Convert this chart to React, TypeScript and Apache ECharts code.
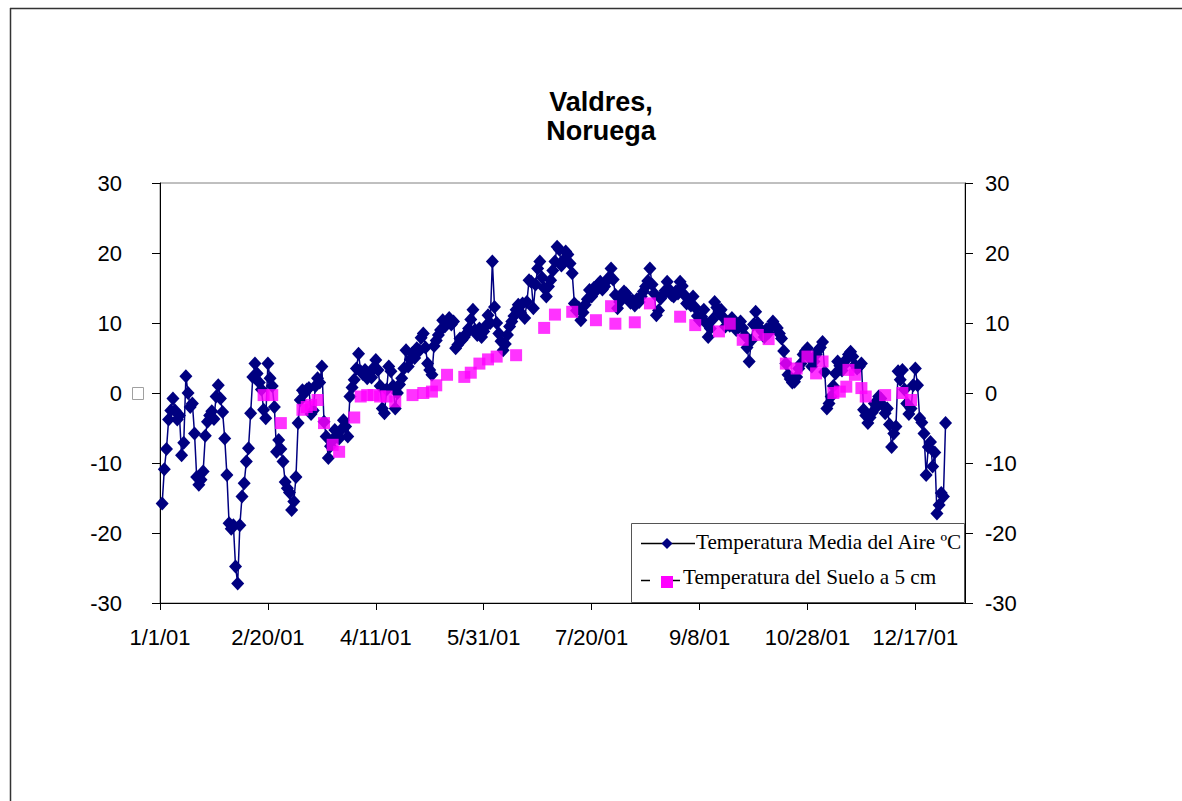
import React, { useEffect, useRef } from "react";
import * as echarts from "echarts";

// Daily mean air temperature (ºC), day 1 .. day 364 of 2001
const airTemp = [
  -15.8, -10.9, -8.0, -3.8, -2.5, -0.8, -2.5, -3.8, -3.2, -8.9,
  -7.1, 2.4, 0.0, -2.0, -1.5, -5.8, -12.0, -13.1, -12.4, -11.2,
  -6.1, -4.1, -3.2, -2.6, -3.7, -0.5, 1.1, -0.8, -2.7, -6.5,
  -11.7, -18.6, -19.4, -18.9, -24.8, -27.2, -18.9, -14.8, -12.9, -9.8,
  -7.9, -2.9, 2.3, 4.2, 2.8, 1.5, 0.5, -2.4, -3.6, 4.2,
  2.1, 1.0, -2.0, -8.4, -6.7, -8.0, -9.8, -12.7, -13.6, -14.2,
  -16.7, -15.5, -12.0, -4.3, -1.0, 0.4, 0.0, 0.5, 0.7, -3.0,
  -2.5, 1.0, 2.1, 1.5, 3.8, -4.1, -6.2, -9.3, -7.6, -6.8,
  -5.3, -6.0, -6.5, -5.2, -3.9, -4.8, -6.2, -0.5, 0.8, 1.9,
  3.5, 5.6, 3.1, 2.7, 3.3, 2.1, 2.8, 2.2, 3.6, 4.7,
  3.3, 1.0, -2.2, -2.9, 0.5, 3.8, 3.1, 1.0, -2.2, 0.0,
  1.2, 2.1, 3.5, 6.1, 3.8, 4.8, 5.7, 5.0, 6.4, 6.0,
  7.9, 8.5, 6.5, 4.2, 3.3, 2.6, 6.7, 7.5, 8.3, 9.0,
  10.4, 9.5, 10.1, 10.7, 9.8, 10.2, 6.4, 6.9, 7.8, 7.6,
  8.0, 8.5, 9.2, 10.5, 11.9, 9.0, 8.3, 9.2, 8.0, 8.8,
  9.6, 11.1, 10.0, 18.8, 12.3, 10.0, 8.5, 7.4, 6.1, 7.0,
  8.3, 9.5, 10.2, 11.0, 11.9, 12.6, 11.5, 12.8, 10.7, 13.0,
  16.1, 15.9, 12.1, 15.5, 17.8, 18.8, 16.5, 15.0, 13.8, 15.2,
  16.1, 17.5, 18.8, 20.9, 20.5, 18.2, 19.0, 20.2, 19.8, 18.5,
  17.1, 12.8, 11.8, 12.2, 10.4, 11.5, 12.6, 13.4, 14.7, 13.8,
  15.0, 14.6, 15.5, 15.9, 14.8, 15.2, 16.0, 16.5, 17.8, 16.2,
  14.0, 12.1, 13.0, 13.8, 14.5, 14.2, 13.5, 12.9, 13.2, 12.5,
  13.4, 13.0, 13.8, 14.5, 15.2, 16.0, 17.8, 15.5, 14.2, 11.1,
  11.8, 13.5, 14.0, 14.6, 15.9, 14.8, 14.0, 13.8, 14.5, 14.2,
  15.9, 15.3, 14.0, 12.8, 13.1, 12.5, 13.8, 12.2, 11.0, 10.4,
  10.9, 11.9, 10.0, 8.0, 9.2, 10.5, 13.0, 12.2, 11.4, 11.9,
  10.8, 9.5, 10.1, 9.6, 10.7, 9.8, 9.0, 9.5, 10.2, 9.3,
  8.2, 6.5, 4.5, 7.5, 9.8, 11.6, 10.0, 9.2, 8.8, 8.0,
  9.1, 8.6, 9.5, 10.2, 9.6, 9.3, 8.5, 7.8, 6.0, 4.2,
  2.6, 2.0, 1.5, 1.6, 2.3, 3.5, 4.2, 5.5, 6.0, 6.4,
  5.0, 3.8, 4.5, 5.5, 6.1, 6.5, 7.3, 3.0, -2.2, -1.5,
  -0.5, 1.0, 2.8, 4.5, 3.9, 3.2, 4.0, 4.8, 5.5, 5.9,
  5.2, 4.0, 3.5, 3.8, 4.2, -2.4, -3.2, -4.3, -3.5, -2.8,
  -1.5, -2.0, -0.5, -0.8, -1.8, -2.9, -2.2, -4.5, -7.7, -5.8,
  -4.8, 3.1, 1.9, 3.3, 0.5, -1.5, -3.0, -2.2, 1.1, 3.5,
  1.1, -3.6, -4.2, -5.8, -11.7, -7.7, -7.0, -10.5, -8.5, -17.2,
  -16.0, -14.3, -14.8, -4.3,
];

// Soil temperature at 5 cm: day of year and value (ºC)
const soilDays = [
  48, 52, 56, 66, 68, 70, 73, 76, 80, 83,
  90, 93, 96, 99, 102, 105, 109, 117, 122, 126,
  128, 133, 141, 144, 148, 152, 156, 165, 178, 183,
  191, 202, 209, 211, 220, 227, 241, 248, 259, 264,
  270, 277, 282, 290, 295, 300, 304, 307, 312, 315,
  318, 319, 322, 325, 327, 336, 344, 348,
];
const soilTemp = [
  -0.3, -0.3, -4.3, -2.4, -2.0, -1.7, -1.0, -4.3, -7.4, -8.4,
  -3.5, -0.5, -0.3, -0.3, -0.5, -0.5, -1.2, -0.3, 0.0, 0.2,
  1.1, 2.6, 2.3, 2.9, 4.2, 4.8, 5.2, 5.4, 9.3, 11.2,
  11.6, 10.4, 12.4, 9.9, 10.1, 12.8, 10.9, 9.7, 8.8, 9.9,
  7.6, 8.3, 7.7, 4.2, 3.5, 5.2, 2.8, 4.5, 0.0, 0.2,
  0.9, 3.3, 2.6, 0.7, -0.5, -0.3, 0.0, -1.0,
];

const xTickDays = [0, 50, 100, 150, 200, 250, 300, 350];
const xTickLabels = ["1/1/01", "2/20/01", "4/11/01", "5/31/01", "7/20/01", "9/8/01", "10/28/01", "12/17/01"];
const yMin = -30;
const yMax = 30;
const yStep = 10;
const titleLines = ["Valdres,", "Noruega"];
const seriesNames = ["Temperatura Media del Aire ºC", "Temperatura del Suelo a 5 cm"];

const SANS = '"Liberation Sans", Arial, sans-serif';
const SERIF = '"Liberation Serif", "Times New Roman", serif';
const NAVY = "#000080";
const PINK = "#FF00FF";

export default function App() {
  const ref = useRef<HTMLDivElement>(null);

  useEffect(() => {
    if (!ref.current) return;
    const chart = echarts.init(ref.current, undefined, { renderer: "svg" });

    const airData = airTemp.map((v, i) => [i + 1, v]);
    const soilData = soilDays.map((d, i) => [d, soilTemp[i]]);

    const yAxisBase = (position: "left" | "right", margin: number) => ({
      type: "value",
      position,
      min: yMin,
      max: yMax,
      interval: yStep,
      splitLine: { show: false },
      axisLine: { show: true, onZero: false, lineStyle: { color: "#000", width: 1 } },
      axisTick: { show: true, inside: false, length: 8, lineStyle: { color: "#000", width: 1 } },
      axisLabel: { margin, fontSize: 22, fontFamily: SANS, color: "#000" },
    });

    const option: any = {
      animation: false,
      backgroundColor: "#ffffff",
      grid: {
        left: 160,
        top: 183,
        width: 805,
        height: 420,
        show: true,
        borderColor: "#808080",
        borderWidth: 1,
        backgroundColor: "transparent",
      },
      xAxis: {
        type: "value",
        min: 0,
        max: 373,
        interval: 50,
        splitLine: { show: false },
        axisLine: { show: true, onZero: false, lineStyle: { color: "#000", width: 1 } },
        axisTick: {
          show: true,
          inside: false,
          length: 7,
          customValues: xTickDays,
          lineStyle: { color: "#000", width: 1 },
        },
        axisLabel: {
          customValues: xTickDays,
          margin: 23,
          fontSize: 22,
          fontFamily: SANS,
          color: "#000",
          formatter: (v: number) => {
            const idx = xTickDays.indexOf(Math.round(v));
            return idx >= 0 ? xTickLabels[idx] : "";
          },
        },
      },
      yAxis: [yAxisBase("left", 38), yAxisBase("right", 20)],
      series: [
        {
          name: seriesNames[0],
          type: "line",
          data: airData,
          xAxisIndex: 0,
          yAxisIndex: 0,
          symbol: "diamond",
          symbolSize: [13, 14],
          showSymbol: true,
          lineStyle: { color: NAVY, width: 1.5 },
          itemStyle: { color: NAVY },
          z: 2,
        },
        {
          name: seriesNames[1],
          type: "scatter",
          data: soilData,
          xAxisIndex: 0,
          yAxisIndex: 0,
          symbol: "rect",
          symbolSize: 12,
          itemStyle: { color: PINK },
          z: 3,
        },
      ],
      graphic: {
        elements: [
          // outer frame (top and left edges)
          { type: "line", z: 10, shape: { x1: 10, y1: 8.5, x2: 1182, y2: 8.5 }, style: { stroke: "#333", lineWidth: 1.5 } },
          { type: "line", z: 10, shape: { x1: 10.5, y1: 8, x2: 10.5, y2: 801 }, style: { stroke: "#333", lineWidth: 1.5 } },
          // title
          {
            type: "text",
            z: 10,
            x: 601,
            y: 87,
            style: {
              text: titleLines.join("\n"),
              fill: "#000",
              font: `bold 27px ${SANS}`,
              lineHeight: 29,
              textAlign: "center",
              textVerticalAlign: "top",
            },
          },
          // missing glyph box left of the zero tick
          { type: "rect", z: 10, shape: { x: 132.5, y: 387.5, width: 11, height: 12 }, style: { fill: "none", stroke: "#a0a0a0", lineWidth: 1 } },
          // legend box
          { type: "rect", z: 20, shape: { x: 631.5, y: 523.5, width: 333, height: 79 }, style: { fill: "#fff", stroke: "#555", lineWidth: 1 } },
          { type: "line", z: 21, shape: { x1: 641, y1: 543.5, x2: 695, y2: 543.5 }, style: { stroke: "#000", lineWidth: 1.5 } },
          {
            type: "polygon",
            z: 22,
            shape: { points: [[667, 538], [672.5, 543.5], [667, 549], [661.5, 543.5]] },
            style: { fill: NAVY },
          },
          {
            type: "text",
            z: 22,
            x: 696,
            y: 542,
            style: { text: seriesNames[0], fill: "#000", font: `21.2px ${SERIF}`, textAlign: "left", textVerticalAlign: "middle" },
          },
          { type: "line", z: 21, shape: { x1: 641, y1: 580.5, x2: 650, y2: 580.5 }, style: { stroke: "#000", lineWidth: 1.5 } },
          { type: "line", z: 21, shape: { x1: 664, y1: 580.5, x2: 680, y2: 580.5 }, style: { stroke: "#000", lineWidth: 1.5 } },
          { type: "rect", z: 22, shape: { x: 661, y: 576, width: 12, height: 12 }, style: { fill: PINK } },
          {
            type: "text",
            z: 22,
            x: 683,
            y: 577,
            style: { text: seriesNames[1], fill: "#000", font: `21.2px ${SERIF}`, textAlign: "left", textVerticalAlign: "middle" },
          },
        ],
      },
    };

    chart.setOption(option);
    return () => chart.dispose();
  }, []);

  return (
    <div
      ref={ref}
      style={{ position: "absolute", left: 0, top: 0, width: 1182, height: 801, background: "#fff" }}
    />
  );
}
